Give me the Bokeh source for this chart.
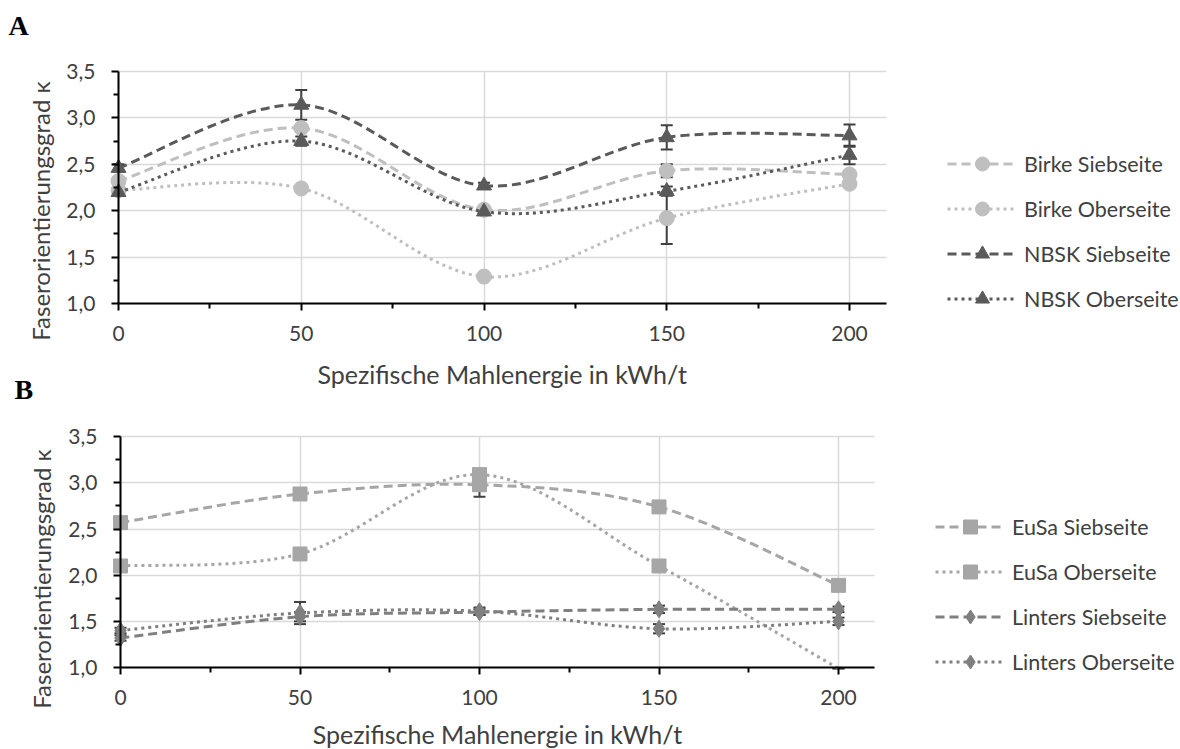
import math
from bokeh.plotting import figure
from bokeh.layouts import column
from bokeh.models import (Range1d, FixedTicker, CustomJSTickFormatter, ColumnDataSource,
                          Whisker, TeeHead, Legend, LegendItem, Label, CDSView, BooleanFilter,
                          Grid)
from bokeh.embed import file_html
from bokeh.resources import INLINE

# ---------------- data ----------------
energy = [0, 50, 100, 150, 200]
x_ticks = [0, 50, 100, 150, 200]
x_minor = [25, 75, 125, 175]
y_ticks = [1.0, 1.5, 2.0, 2.5, 3.0, 3.5]
y_minor = [1.25, 1.75, 2.25, 2.75, 3.25]
X_MIN, X_MAX = 0, 210
Y_MIN, Y_MAX = 1.0, 3.5

# Panel A
birke_sieb = [2.32, 2.89, 2.01, 2.43, 2.39]
birke_sieb_err = [0.03, 0.03, 0.03, 0.07, 0.03]
birke_ober = [2.22, 2.24, 1.29, 1.92, 2.29]
birke_ober_err = [0.03, 0.03, 0.03, 0.28, 0.03]
nbsk_sieb = [2.46, 3.14, 2.27, 2.79, 2.81]
nbsk_sieb_err = [0.04, 0.16, 0.03, 0.13, 0.12]
nbsk_ober = [2.20, 2.75, 1.99, 2.21, 2.60]
nbsk_ober_err = [0.04, 0.05, 0.03, 0.05, 0.10]

# Panel B
eusa_sieb = [2.57, 2.88, 2.98, 2.74, 1.89]
eusa_sieb_err = [0.03, 0.03, 0.13, 0.03, 0.03]
eusa_ober = [2.10, 2.23, 3.09, 2.10, 0.99]
eusa_ober_err = [0.03, 0.03, 0.03, 0.03, 0.0]
linters_sieb = [1.32, 1.55, 1.60, 1.63, 1.63]
linters_sieb_err = [0.03, 0.05, 0.03, 0.04, 0.03]
linters_ober = [1.40, 1.59, 1.61, 1.42, 1.50]
linters_ober_err = [0.03, 0.12, 0.04, 0.05, 0.04]

x_title = "Spezifische Mahlenergie in kWh/t"
y_title = "Faserorientierungsgrad κ"

FONT = "Lato"
TXT = "#404040"
ERR = "#404040"
GRID = "#D9D9D9"
C_BIRKE = "#BFBFBF"
C_NBSK = "#5A5A5A"
C_EUSA = "#A6A6A6"
C_LINT = "#7F7F7F"
DASH = "9 5"
DOT = "3 4"
W = 1180
HA, HB = 410, 339          # canvas heights (page split at y=410)


def bezier_segments(xs, ys):
    n = len(xs)
    d = dict(x0=[], y0=[], x1=[], y1=[], cx0=[], cy0=[], cx1=[], cy1=[])
    for i in range(n - 1):
        a = max(i - 1, 0)
        b = min(i + 2, n - 1)
        d["x0"].append(xs[i]); d["y0"].append(ys[i])
        d["x1"].append(xs[i + 1]); d["y1"].append(ys[i + 1])
        d["cx0"].append(xs[i] + (xs[i + 1] - xs[a]) / 6.0)
        d["cy0"].append(ys[i] + (ys[i + 1] - ys[a]) / 6.0)
        d["cx1"].append(xs[i + 1] - (xs[b] - xs[i]) / 6.0)
        d["cy1"].append(ys[i + 1] - (ys[b] - ys[i]) / 6.0)
    return d


class Geo:
    """pixel geometry of one panel: x=0 at x0_px, y=1.0 at y1_px (canvas px)."""
    def __init__(self, height, x0_px, sx, y1_px, sy):
        self.h, self.x0, self.sx, self.y1, self.sy = height, x0_px, sx, y1_px, sy

    def dx(self, px):
        return (px - self.x0) / self.sx

    def dy(self, py):
        return Y_MIN + (self.y1 - py) / self.sy


def make_fig(g):
    p = figure(width=W, height=g.h, output_backend="svg", toolbar_location=None,
               x_range=Range1d(g.dx(0), g.dx(W)), y_range=Range1d(g.dy(g.h), g.dy(0)),
               min_border=0, min_border_left=0, min_border_right=0,
               min_border_top=0, min_border_bottom=0)
    p.outline_line_color = None
    p.background_fill_color = "white"
    p.border_fill_color = "white"

    p.xaxis.ticker = FixedTicker(ticks=x_ticks, minor_ticks=x_minor)
    p.yaxis.ticker = FixedTicker(ticks=y_ticks, minor_ticks=y_minor)
    p.yaxis.formatter = CustomJSTickFormatter(code="return tick.toFixed(1).replace('.', ',');")
    p.xaxis.fixed_location = Y_MIN
    p.yaxis.fixed_location = X_MIN
    p.xaxis.bounds = (X_MIN, X_MAX)
    p.yaxis.bounds = (Y_MIN, Y_MAX)
    for ax in (p.xaxis, p.yaxis):
        ax.axis_line_color = "black"
        ax.axis_line_width = 2
        ax.major_tick_line_color = "black"
        ax.major_tick_line_width = 2
        ax.minor_tick_line_color = "black"
        ax.minor_tick_line_width = 2
        ax.major_tick_in = 0
        ax.minor_tick_in = 0
        ax.major_tick_out = 7
        ax.minor_tick_out = 5
        ax.major_label_text_font = FONT
        ax.major_label_text_font_size = "21px"
        ax.major_label_text_color = TXT
    p.xaxis.major_label_standoff = 15
    p.yaxis.major_label_standoff = 16

    if "cross_bounds" in Grid.properties():
        p.xgrid.cross_bounds = (Y_MIN, Y_MAX)
        p.ygrid.cross_bounds = (X_MIN, X_MAX)
        for gr in (p.xgrid, p.ygrid):
            gr.grid_line_color = GRID
            gr.grid_line_width = 1.5
    else:
        p.xgrid.visible = False
        p.ygrid.visible = False
        p.segment(x0=x_ticks, x1=x_ticks, y0=[Y_MIN] * len(x_ticks), y1=[Y_MAX] * len(x_ticks),
                  line_color=GRID, line_width=1.5, level="underlay")
        p.segment(x0=[X_MIN] * len(y_ticks), x1=[X_MAX] * len(y_ticks), y0=y_ticks, y1=y_ticks,
                  line_color=GRID, line_width=1.5, level="underlay")
    return p


def add_series(p, ys, err, color, dash, marker, size):
    seg = ColumnDataSource(bezier_segments(energy, ys))
    p.bezier(x0="x0", y0="y0", x1="x1", y1="y1", cx0="cx0", cy0="cy0", cx1="cx1", cy1="cy1",
             source=seg, line_color=color, line_width=3, line_dash=dash)
    src = ColumnDataSource(dict(x=energy, y=ys,
                                lo=[v - e for v, e in zip(ys, err)],
                                hi=[v + e for v, e in zip(ys, err)]))
    dummy = p.line(x=[float("nan")], y=[float("nan")], line_color=color, line_width=3,
                   line_dash=dash)
    inside = [Y_MIN <= v <= Y_MAX for v in ys]
    sc = p.scatter(x="x", y="y", source=src, view=CDSView(filter=BooleanFilter(inside)),
                   marker=marker, size=size, fill_color=color, line_color=color)
    w = Whisker(source=src, base="x", lower="lo", upper="hi", dimension="height",
                line_color=ERR, line_width=2,
                upper_head=TeeHead(size=12, line_color=ERR, line_width=2),
                lower_head=TeeHead(size=12, line_color=ERR, line_width=2))
    p.add_layout(w)
    return [dummy, sc]


def add_legend(p, items, vx, vy, spacing):
    leg = Legend(items=[LegendItem(label=l, renderers=r) for l, r in items],
                 location=(vx, vy), orientation="vertical",
                 glyph_width=70, glyph_height=35, label_height=20,
                 label_standoff=7, spacing=spacing, padding=0, margin=0,
                 border_line_color=None, background_fill_alpha=0,
                 label_text_font=FONT, label_text_font_size="21.5px",
                 label_text_color=TXT)
    p.add_layout(leg)


def add_letter(p, letter, x, y):
    p.add_layout(Label(x=x, y=y, text=letter, text_align="left", text_baseline="middle",
                       text_font="Liberation Serif", text_font_size="28px",
                       text_font_style="bold", text_color="black"))


def add_titles(p, xt_y, yt_x, yt_y):
    p.add_layout(Label(x=(X_MIN + X_MAX) / 2, y=xt_y, text=x_title, text_align="center",
                       text_baseline="middle", text_font=FONT, text_font_size="25px",
                       text_color=TXT))
    p.add_layout(Label(x=yt_x, y=yt_y, text=y_title, angle=math.pi / 2, text_align="center",
                       text_baseline="middle", text_font=FONT, text_font_size="24px",
                       text_color=TXT))


# ---------------- panel A ----------------
ga = Geo(HA, 118, 3.655, 303, 92.8)
pa = make_fig(ga)
ra1 = add_series(pa, birke_sieb, birke_sieb_err, C_BIRKE, DASH, "circle", 15)
ra2 = add_series(pa, birke_ober, birke_ober_err, C_BIRKE, DOT, "circle", 15)
ra3 = add_series(pa, nbsk_sieb, nbsk_sieb_err, C_NBSK, DASH, "triangle", 15)
ra4 = add_series(pa, nbsk_ober, nbsk_ober_err, C_NBSK, DOT, "triangle", 15)
add_legend(pa, [("Birke Siebseite", ra1), ("Birke Oberseite", ra2),
                ("NBSK Siebseite", ra3), ("NBSK Oberseite", ra4)], 947, HA - 316, 10)
add_titles(pa, ga.dy(373), ga.dx(39.5), ga.dy(210.5))
add_letter(pa, "A", ga.dx(8), ga.dy(25))
add_letter(pa, "B", ga.dx(14), ga.dy(389))   # panel letter B sits above panel B's canvas

# ---------------- panel B ----------------
gb = Geo(HB, 120, 3.59, 667 - HA, 92.3)
pb = make_fig(gb)
rb1 = add_series(pb, eusa_sieb, eusa_sieb_err, C_EUSA, DASH, "square", 14)
rb2 = add_series(pb, eusa_ober, eusa_ober_err, C_EUSA, DOT, "square", 14)
rb3 = add_series(pb, linters_sieb, linters_sieb_err, C_LINT, DASH, "diamond", 17)
rb4 = add_series(pb, linters_ober, linters_ober_err, C_LINT, DOT, "diamond", 17)
add_legend(pb, [("EuSa Siebseite", rb1), ("EuSa Oberseite", rb2),
                ("Linters Siebseite", rb3), ("Linters Oberseite", rb4)], 935, 70, 10)
add_titles(pb, gb.dy(733 - HA), gb.dx(40.5), gb.dy(578.5 - HA))

layout = column(pa, pb, spacing=0)
open("out.html", "w").write(file_html(layout, INLINE))
